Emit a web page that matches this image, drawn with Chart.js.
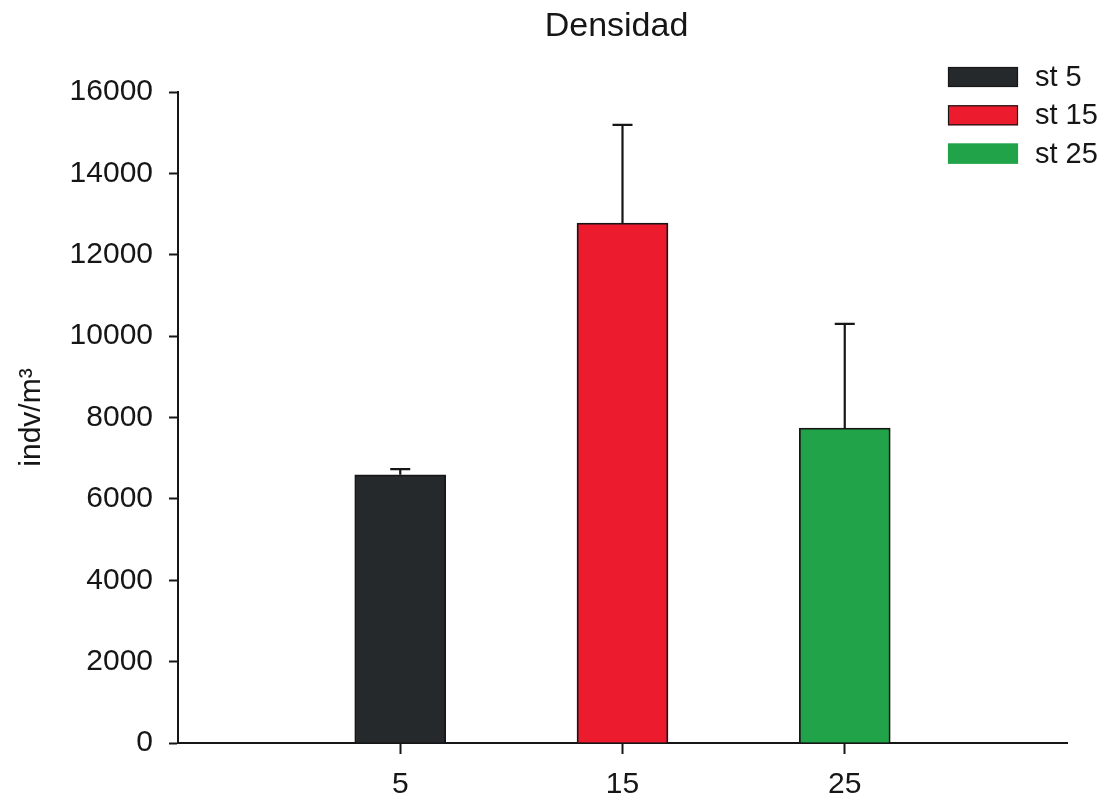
<!DOCTYPE html>
<html>
<head>
<meta charset="utf-8">
<title>Densidad</title>
<script src="https://cdn.jsdelivr.net/npm/chart.js@4/dist/chart.umd.min.js"></script>
<style>
  html, body { margin: 0; padding: 0; background: #ffffff; }
  #wrap { width: 1107px; height: 803px; }
</style>
</head>
<body>
<div id="wrap"><canvas id="chart" width="1107" height="803"></canvas></div>
<script>
// Stations sampled and mean density (indv/m³) with upper error
const categories = ['5', '15', '25'];
const stations = [5, 15, 25];
const seriesNames = ['st 5', 'st 15', 'st 25'];
const density = [6590, 12780, 7740];
const densityError = [140, 2410, 2560];
const yTicks = [0, 2000, 4000, 6000, 8000, 10000, 12000, 14000, 16000];
const barColors = ['#25292b', '#ec1c2e', '#21a449'];
const chartTitle = 'Densidad';

const FONT = '"Liberation Sans", Arial, Helvetica, sans-serif';
const INK = '#161616';

// Upward error whiskers with a short cap
const errorBars = {
  id: 'errorBars',
  afterDatasetsDraw(chart) {
    const xs = chart.scales.x, ys = chart.scales.y, ctx = chart.ctx;
    ctx.save();
    ctx.strokeStyle = INK;
    ctx.lineWidth = 2.2;
    stations.forEach((s, i) => {
      const x = xs.getPixelForValue(s);
      const y0 = ys.getPixelForValue(density[i]);
      const y1 = ys.getPixelForValue(density[i] + densityError[i]);
      ctx.beginPath();
      ctx.moveTo(x, y0);
      ctx.lineTo(x, y1);
      ctx.moveTo(x - 10, y1);
      ctx.lineTo(x + 10, y1);
      ctx.stroke();
    });
    ctx.restore();
  }
};

// Title centred over the plotting area
const plotTitle = {
  id: 'plotTitle',
  afterDraw(chart) {
    const ctx = chart.ctx, area = chart.chartArea;
    ctx.save();
    ctx.font = '34px ' + FONT;
    ctx.fillStyle = INK;
    ctx.textAlign = 'center';
    ctx.textBaseline = 'alphabetic';
    ctx.fillText(chartTitle, (area.left + area.right) / 2 - 6, 36);
    ctx.restore();
  }
};

// Station key in the upper right corner
const stationKey = {
  id: 'stationKey',
  afterDraw(chart) {
    const ctx = chart.ctx;
    const boxX = 948, boxW = 70, boxH = 20, top = 67, step = 38.3;
    ctx.save();
    ctx.font = '29px ' + FONT;
    ctx.textBaseline = 'middle';
    ctx.textAlign = 'left';
    seriesNames.forEach((name, i) => {
      const y = top + i * step;
      ctx.fillStyle = barColors[i];
      ctx.fillRect(boxX, y, boxW, boxH);
      ctx.strokeStyle = i === 2 ? barColors[i] : INK;
      ctx.lineWidth = 1.2;
      ctx.strokeRect(boxX + 0.5, y + 0.5, boxW - 1, boxH - 1);
      ctx.fillStyle = INK;
      ctx.fillText(name, 1035, y + boxH / 2 + 1);
    });
    ctx.restore();
  }
};

new Chart(document.getElementById('chart'), {
  type: 'bar',
  data: {
    datasets: [{
      label: chartTitle,
      data: stations.map((s, i) => ({ x: s, y: density[i] })),
      backgroundColor: barColors,
      borderColor: INK,
      borderWidth: 1.8,
      barThickness: 91
    }]
  },
  options: {
    responsive: false,
    animation: false,
    events: [],
    layout: { padding: { top: 92, right: 40, bottom: 0, left: 0 } },
    plugins: {
      legend: { display: false },
      tooltip: { enabled: false },
      title: { display: false }
    },
    scales: {
      x: {
        type: 'linear',
        min: -5,
        max: 35,
        offset: false,
        afterBuildTicks(scale) { scale.ticks = stations.map(v => ({ value: v })); },
        afterFit(scale) { scale.height = 60; },
        ticks: {
          color: INK,
          font: { family: FONT, size: 30 },
          padding: 13,
          callback(value) {
            const i = stations.indexOf(value);
            return i >= 0 ? categories[i] : '';
          }
        },
        grid: { offset: false, drawOnChartArea: false, drawTicks: true, tickLength: 11, tickColor: INK, tickWidth: 2 },
        border: { display: true, color: INK, width: 2 }
      },
      y: {
        min: 0,
        max: 16000,
        afterBuildTicks(scale) { scale.ticks = yTicks.map(v => ({ value: v })); },
        afterFit(scale) { scale.width = 178; },
        ticks: {
          color: INK,
          font: { family: FONT, size: 30 },
          padding: 16,
          callback(value) { return String(value); }
        },
        title: {
          display: true,
          text: 'indv/m³',
          color: INK,
          font: { family: FONT, size: 30 },
          padding: { top: 14, bottom: 0 }
        },
        grid: { drawOnChartArea: false, drawTicks: true, tickLength: 9, tickColor: INK, tickWidth: 2 },
        border: { display: true, color: INK, width: 2 }
      }
    }
  },
  plugins: [errorBars, plotTitle, stationKey]
});
</script>
</body>
</html>
